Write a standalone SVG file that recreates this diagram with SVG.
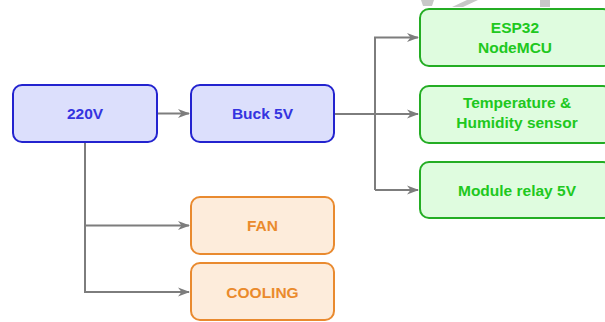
<svg xmlns="http://www.w3.org/2000/svg" width="605" height="322" viewBox="0 0 605 322">
<style>
.n rect{stroke-width:2}
.b rect{fill:#dcdffc;stroke:#2323cf}
.b text{fill:#3434e0}
.o rect{fill:#fdecdb;stroke:#e98a2f}
.o text{fill:#ea8a2c}
.g rect{fill:#dffcdf;stroke:#24ad24}
.g text{fill:#20c820}
text{font-family:"Liberation Sans",Arial,sans-serif;font-weight:bold;font-size:15.5px;text-anchor:middle}
.c path{fill:none;stroke:#7d7d7d;stroke-width:2}
.wm{fill:#c8c8c8}
</style>
<defs>
<marker id="ar" viewBox="0 0 12 10" refX="11" refY="5" markerWidth="12" markerHeight="10" markerUnits="userSpaceOnUse" orient="auto">
<path d="M0,0.5 L12,5 L0,9.5 L3.5,5 Z" fill="#7d7d7d"/>
</marker>
</defs>
<g id="watermark">
<polygon class="wm" points="421,0 434,0 432,6 423,6"/>
<polygon class="wm" points="467,0 478,0 463,7 452,7"/>
<rect class="wm" x="540" y="0" width="10" height="7"/>
</g>
<g class="c" id="connectors">
<path d="M157,113.5 H189" marker-end="url(#ar)"/>
<path d="M334,114 H418" marker-end="url(#ar)"/>
<path d="M375,190 V37.5 H418" marker-end="url(#ar)"/>
<path d="M375,190 H418" marker-end="url(#ar)"/>
<path d="M85,142 V292 H189" marker-end="url(#ar)"/>
<path d="M85,225.5 H189" marker-end="url(#ar)"/>
</g>
<g id="n220v" class="n b"><rect x="13" y="85" width="144" height="57" rx="9"/><text x="85" y="119">220V</text></g>
<g id="buck" class="n b"><rect x="191" y="85" width="143" height="57" rx="9"/><text x="262.5" y="119">Buck 5V</text></g>
<g id="fan" class="n o"><rect x="191" y="197" width="143" height="57" rx="9"/><text x="262.5" y="231">FAN</text></g>
<g id="cooling" class="n o"><rect x="191" y="263" width="143" height="57" rx="9"/><text x="262.5" y="297.5">COOLING</text></g>
<g id="esp32" class="n g"><rect x="420" y="9" width="192" height="57" rx="9"/><text x="515" y="33">ESP32</text><text x="515" y="53">NodeMCU</text></g>
<g id="sensor" class="n g"><rect x="420" y="86" width="192" height="57" rx="9"/><text x="517" y="108">Temperature &amp;</text><text x="517" y="128">Humidity sensor</text></g>
<g id="relay" class="n g"><rect x="420" y="162" width="192" height="56" rx="9"/><text x="517" y="195.5">Module relay 5V</text></g>
</svg>
